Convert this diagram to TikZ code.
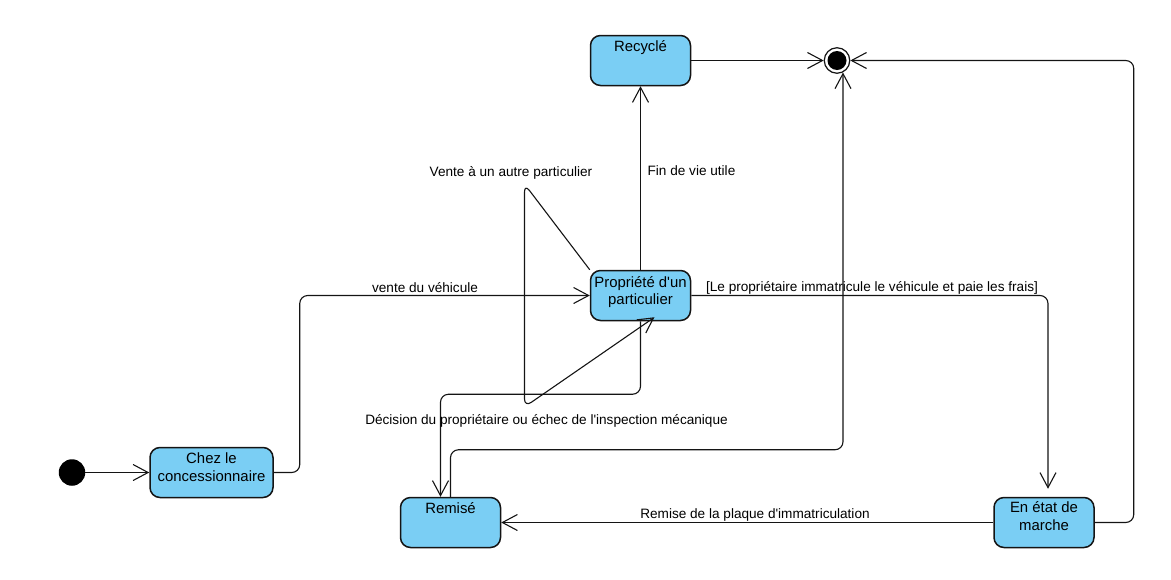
\documentclass[tikz,border=0pt]{standalone}
\usepackage{fontspec}
\setmainfont{Liberation Sans}[Ligatures=TeXOff]
\usetikzlibrary{arrows.meta,calc}
\definecolor{stfill}{RGB}{122,206,244}
\definecolor{stline}{RGB}{20,20,20}
\begin{document}
\begin{tikzpicture}[x=1pt,y=-1pt,
  state/.style={draw=stline, line width=1.5pt, fill=stfill, rounded corners=10pt,
    minimum width=100pt, minimum height=50pt, inner sep=0pt},
  stxt/.style={font=\fontsize{14.9}{17.5}\selectfont, anchor=base, inner sep=0pt},
  lbl/.style={font=\fontsize{13.6}{16}\selectfont, anchor=base, inner sep=0pt},
  conn/.style={line width=1.1pt, draw=stline, rounded corners=8pt,
    -{Straight Barb[length=15pt,width=16pt,line width=1.1pt]}},
]
\useasboundingbox (0,0) rectangle (1171,579);

% states
\node[state, minimum width=123pt] (chez) at (211.5,472.5) {};
\node[stxt] (tchez1) at (211.5,463) {Chez le};
\node[stxt] (tchez2) at (211.5,481) {concessionnaire};

\node[state] (rec) at (640.5,60.5) {};
\node[stxt] (trec) at (640.5,51) {Recyclé};

\node[state] (prop) at (640.5,295.5) {};
\node[stxt] (tprop1) at (640.5,287) {Propriété d'un};
\node[stxt] (tprop2) at (640.5,304) {particulier};

\node[state] (rem) at (450.5,522.5) {};
\node[stxt] (trem) at (450.5,513) {Remisé};

\node[state] (etat) at (1044,522.5) {};
\node[stxt] (tetat1) at (1044,512) {En état de};
\node[stxt] (tetat2) at (1044,530) {marche};

% pseudo states
\node[circle, fill=black, minimum size=26.5pt, inner sep=0pt] (ini) at (72,472.5) {};
\node[circle, draw=stline, line width=1.2pt, fill=white, minimum size=25.5pt, inner sep=0pt] (fin) at (837,60.5) {};
\fill[black] (fin.center) circle (9.5pt);

% transitions
\draw[conn] (ini) -- (chez);
\draw[conn] (chez.east) -- ++(26,0) |- (prop.west);
\draw[conn] (prop.north) -- (rec.south);
\draw[conn] (rec.east) -- (fin.west);
\draw[conn] (prop.east) -| ($(etat.north)+(4,-8)$);
\draw[conn] (etat.east) -- ++(39,0) |- (fin.east);
\draw[conn] (etat.west) -- (rem.east);
\draw[conn] (rem.north) -- ++(0,-47) -| ($(fin.center)+(6,12)$);
\draw[conn] (prop.south) -- ++(0,73) -| ($(rem.north)+(-10,0)$);
\draw[conn] (prop.north west) -- (524.5,184) -- (524.5,407) -- ($(prop.south)+(14,-4)$);

% labels
\node[lbl] (l1) at (425,292.5) {vente du véhicule};
\node[lbl] (l2) at (691.5,175.5) {Fin de vie utile};
\node[lbl] (l3) at (511,176.5) {Vente à un autre particulier};
\node[lbl] (l4) at (872,291) {[Le propriétaire immatricule le véhicule et paie les frais]};
\node[lbl] (l5) at (546.5,424) {Décision du propriétaire ou échec de l'inspection mécanique};
\node[lbl] (l6) at (755,518) {Remise de la plaque d'immatriculation};
\end{tikzpicture}
\end{document}
